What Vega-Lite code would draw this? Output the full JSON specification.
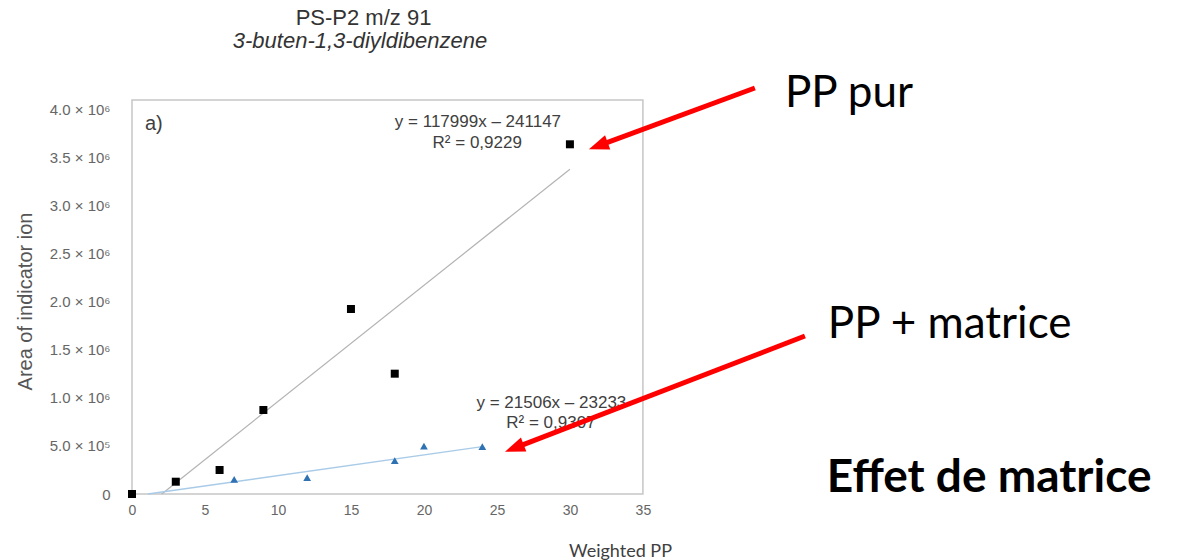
{
  "$schema": "https://vega.github.io/schema/vega-lite/v6.json",
  "autosize": {"type": "none"},
  "padding": {"left": 132, "top": 100, "right": 2, "bottom": 66},
  "width": 1051,
  "height": 394,
  "background": "white",
  "config": {"view": {"stroke": null}, "font": "Liberation Sans"},
  "datasets": {
    "frame": [
      {"x": 0, "x2": 35, "y": 0, "y2": 4100000}
    ],
    "pur": [
      {"x": 0, "y": 0},
      {"x": 3, "y": 128000},
      {"x": 6, "y": 250000},
      {"x": 9, "y": 874000},
      {"x": 15, "y": 1925000},
      {"x": 18, "y": 1252000},
      {"x": 30, "y": 3639000}
    ],
    "matrice": [
      {"x": 7, "y": 153000},
      {"x": 12, "y": 170000},
      {"x": 18, "y": 347000},
      {"x": 20, "y": 499000},
      {"x": 24, "y": 492000}
    ],
    "trend_pur": [
      {"x": 2.04, "y": 0},
      {"x": 30, "y": 3380000}
    ],
    "trend_matrice": [
      {"x": 1.08, "y": 0},
      {"x": 24, "y": 493000}
    ],
    "titles": [
      {"x": 15.86, "y": 4880000, "t": "PS-P2 m/z 91"}
    ],
    "subtitles": [
      {"x": 15.62, "y": 4641000, "t": "3-buten-1,3-diyldibenzene"}
    ],
    "equations": [
      {"x": 23.7, "y": 3874000, "t": "y = 117999x – 241147"},
      {"x": 23.65, "y": 3649000, "t": "R² = 0,9229"},
      {"x": 28.73, "y": 947000, "t": "y = 21506x – 23233"},
      {"x": 28.7, "y": 736000, "t": "R² = 0,9307"}
    ],
    "panel": [
      {"x": 0.89, "y": 3788000, "t": "a)"}
    ],
    "notes": [
      {"x": 44.73, "y": 4027000, "t": "PP pur"},
      {"x": 47.67, "y": 1623000, "t": "PP + matrice"}
    ],
    "notes_bold": [
      {"x": 47.6, "y": 24000, "t": "Effet de matrice"}
    ],
    "arrows": [
      {"x": 42.67, "y": 4225000, "x2": 32.07, "y2": 3630000, "tx": 31.3, "ty": 3587000, "dir": 159.7},
      {"x": 46.1, "y": 1644000, "x2": 26.32, "y2": 485000, "tx": 25.55, "ty": 440000, "dir": 158.9}
    ]
  },
  "encoding": {
    "x": {
      "field": "x",
      "type": "quantitative",
      "title": "Weighted PP",
      "scale": {"domain": [0, 72], "nice": false, "zero": false},
      "axis": {
        "values": [0, 5, 10, 15, 20, 25, 30, 35],
        "grid": false,
        "domain": false,
        "ticks": false,
        "labelFont": "Liberation Sans",
        "labelFontSize": 14,
        "labelColor": "#666666",
        "labelPadding": 9,
        "labelFlush": false,
        "labelOverlap": false,
        "titleFont": "Lato",
        "titleFontSize": 18,
        "titleFontWeight": "normal",
        "titleColor": "#404040",
        "titleX": 488,
        "titleY": 62,
        "titleAlign": "center",
        "titleBaseline": "alphabetic"
      }
    },
    "y": {
      "field": "y",
      "type": "quantitative",
      "title": "Area of indicator ion",
      "scale": {"domain": [0, 4100000], "nice": false},
      "axis": {
        "values": [0, 500000, 1000000, 1500000, 2000000, 2500000, 3000000, 3500000, 4000000],
        "labelExpr": "datum.value == 0 ? '0' : (datum.value >= 1000000 ? format(datum.value / 1000000, '.1f') + ' × 10⁶' : format(datum.value / 100000, '.1f') + ' × 10⁵')",
        "grid": false,
        "domain": false,
        "ticks": false,
        "labelFont": "Liberation Sans",
        "labelFontSize": 15,
        "labelColor": "#666666",
        "labelPadding": 22,
        "labelOverlap": false,
        "titleFont": "Liberation Sans",
        "titleFontSize": 20,
        "titleFontWeight": "normal",
        "titleColor": "#555555",
        "titleX": -97,
        "titleY": 201
      }
    }
  },
  "layer": [
    {
      "data": {"name": "frame"},
      "mark": {"type": "rect", "filled": false, "stroke": "#c6c6c6", "strokeWidth": 1.5},
      "encoding": {
        "x2": {"field": "x2"},
        "y2": {"field": "y2"}
      }
    },
    {
      "data": {"name": "trend_pur"},
      "mark": {"type": "line", "color": "#b3b3b3", "strokeWidth": 1.2},
      "encoding": {}
    },
    {
      "data": {"name": "trend_matrice"},
      "mark": {"type": "line", "color": "#a9cbe8", "strokeWidth": 1.5},
      "encoding": {}
    },
    {
      "data": {"name": "pur"},
      "mark": {"type": "point", "shape": "square", "filled": true, "color": "#000000", "size": 64, "opacity": 1}
    },
    {
      "data": {"name": "matrice"},
      "mark": {"type": "point", "shape": "triangle-up", "filled": true, "color": "#2f72b3", "size": 60, "opacity": 1}
    },
    {
      "data": {"name": "titles"},
      "mark": {"type": "text", "font": "Liberation Sans", "fontSize": 22, "color": "#333333", "align": "center", "baseline": "alphabetic"},
      "encoding": {"text": {"field": "t"}}
    },
    {
      "data": {"name": "subtitles"},
      "mark": {"type": "text", "font": "Liberation Sans", "fontSize": 22, "fontStyle": "italic", "color": "#333333", "align": "center", "baseline": "alphabetic"},
      "encoding": {"text": {"field": "t"}}
    },
    {
      "data": {"name": "equations"},
      "mark": {"type": "text", "font": "Liberation Sans", "fontSize": 17, "color": "#404040", "align": "center", "baseline": "middle"},
      "encoding": {"text": {"field": "t"}}
    },
    {
      "data": {"name": "panel"},
      "mark": {"type": "text", "font": "Liberation Sans", "fontSize": 20, "color": "#404040", "align": "left", "baseline": "alphabetic"},
      "encoding": {"text": {"field": "t"}}
    },
    {
      "data": {"name": "notes"},
      "mark": {"type": "text", "font": "Lato", "fontSize": 44, "color": "#000000", "align": "left", "baseline": "alphabetic"},
      "encoding": {"text": {"field": "t"}}
    },
    {
      "data": {"name": "notes_bold"},
      "mark": {"type": "text", "font": "Lato", "fontSize": 46, "fontWeight": "bold", "color": "#000000", "align": "left", "baseline": "alphabetic"},
      "encoding": {"text": {"field": "t"}}
    },
    {
      "data": {"name": "arrows"},
      "mark": {"type": "rule", "color": "#ff0000", "strokeWidth": 5},
      "encoding": {
        "x2": {"field": "x2"},
        "y2": {"field": "y2"}
      }
    },
    {
      "data": {"name": "arrows"},
      "mark": {"type": "point", "shape": "M0,0L-2,-0.75L-2,0.75Z", "filled": true, "color": "#ff0000", "size": 400, "opacity": 1},
      "encoding": {
        "x": {"field": "tx", "type": "quantitative", "title": "Weighted PP"},
        "y": {"field": "ty", "type": "quantitative", "title": "Area of indicator ion"},
        "angle": {"field": "dir", "type": "quantitative", "scale": null}
      }
    }
  ]
}
